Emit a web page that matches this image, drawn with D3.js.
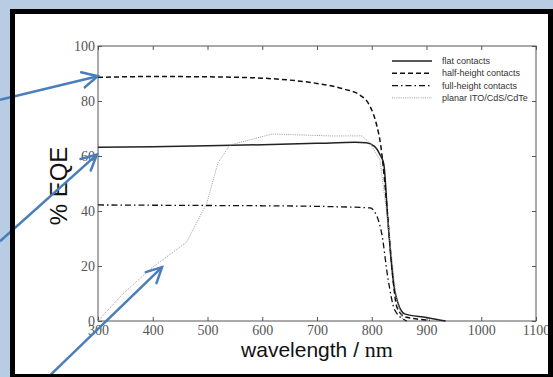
<!DOCTYPE html>
<html>
<head>
<meta charset="utf-8">
<script src="https://cdn.jsdelivr.net/npm/d3@7"></script>
<style>
  body { margin: 0; padding: 0; background: #b8cce4; }
  svg { display: block; }
</style>
</head>
<body>
<svg id="chart" width="553" height="377"></svg>
<script>
// data: [wavelength nm, % EQE]
var flat = [[300,63.2],[400,63.4],[500,63.7],[600,64.1],[700,64.6],[770,65],[790,64.8],[805,63.5],[815,60.5],[822,57],[830,35],[842,11],[860,2.6],[900,1.3],[935,0]];
var half = [[300,88.6],[400,88.9],[500,88.8],[600,88.3],[650,87.6],[700,86.4],[750,84.3],[778,82.2],[797,78],[808,72],[817,63],[823,52],[830,36],[837,19],[846,5],[861,1.5],[906,0.3]];
var full = [[300,42.2],[400,42.1],[500,42],[600,41.9],[724,41.6],[797,41.1],[810,37.8],[818,32],[830,15],[842,4],[864,0]];
var planar = [[300,0],[346,10],[400,19.6],[462,28.7],[499,43],[519,57.5],[541,64],[618,68],[724,67.3],[782,67.3],[797,64.7],[815,58.5],[830,35],[845,8],[857,0.4]];

var seriesNames = ['flat contacts', 'half-height contacts', 'full-height contacts', 'planar ITO/CdS/CdTe'];
var xTicks = [300, 400, 500, 600, 700, 800, 900, 1000, 1100];
var yTicks = [0, 20, 40, 60, 80, 100];

// annotation arrows, tail -> tip in data units
var arrows = [
  {from: [121, 80.4], to: [299.5, 89]},
  {from: [121, 29], to: [298, 60.5]},
  {from: [209, -20.4], to: [417, 19.6]}
];

var svg = d3.select('#chart');

// slide frame
svg.append('rect').attr('x', 0).attr('y', 0).attr('width', 553).attr('height', 377).attr('fill', '#b8cce4');
svg.append('rect').attr('x', 10).attr('y', 9).attr('width', 543).attr('height', 368).attr('fill', '#fff');

var x = d3.scaleLinear().domain([300, 1100]).range([98, 536]);
var y = d3.scaleLinear().domain([0, 100]).range([321, 46]);

var axisColor = '#555';
var serif = '"Liberation Serif", "DejaVu Serif", serif';
var sans = '"Liberation Sans", Arial, sans-serif';

// box
svg.append('rect')
  .attr('x', x(300)).attr('y', y(100))
  .attr('width', x(1100) - x(300)).attr('height', y(0) - y(100))
  .attr('fill', 'none').attr('stroke', axisColor).attr('stroke-width', 1);

// axes with inward ticks
function styleAxis(g) {
  g.select('.domain').remove();
  g.selectAll('.tick line').attr('stroke', axisColor);
  g.selectAll('.tick text').attr('fill', axisColor).style('font-family', serif).style('font-size', '14px');
}

svg.append('g').attr('transform', 'translate(0,' + y(0) + ')')
  .call(d3.axisBottom(x).tickValues(xTicks).tickSize(-4).tickPadding(4).tickFormat(d3.format('d')))
  .call(styleAxis);
svg.append('g').attr('transform', 'translate(0,' + y(100) + ')')
  .call(d3.axisTop(x).tickValues(xTicks).tickSize(-4).tickFormat(''))
  .call(styleAxis);
svg.append('g').attr('transform', 'translate(' + x(300) + ',0)')
  .call(d3.axisLeft(y).tickValues(yTicks).tickSize(-4).tickPadding(3).tickFormat(d3.format('d')))
  .call(styleAxis);
svg.append('g').attr('transform', 'translate(' + x(1100) + ',0)')
  .call(d3.axisRight(y).tickValues(yTicks).tickSize(-4).tickFormat(''))
  .call(styleAxis);

// axis titles
svg.append('text')
  .attr('transform', 'translate(67,186) rotate(-90)')
  .attr('text-anchor', 'middle')
  .style('font-family', sans).style('font-size', '24px').attr('fill', '#111')
  .text('% EQE');

var xl = svg.append('text')
  .attr('x', 317).attr('y', 357)
  .attr('text-anchor', 'middle').attr('fill', '#111')
  .style('font-size', '21px');
xl.append('tspan').style('font-family', sans).text('wavelength / ');
xl.append('tspan').style('font-family', serif).style('font-size', '22px').text('nm');

// curves
var styles = [
  {data: flat, color: '#222', width: 1.5, dash: null, curve: d3.curveMonotoneX},
  {data: half, color: '#111', width: 1.5, dash: '5,3', curve: d3.curveMonotoneX},
  {data: full, color: '#111', width: 1.3, dash: '6,3,1.5,3', curve: d3.curveMonotoneX},
  {data: planar, color: '#999', width: 1, dash: '1,1.2', curve: d3.curveLinear}
];

function linePath(d) {
  return d3.line()
    .x(function (p) { return x(p[0]); })
    .y(function (p) { return y(p[1]); })
    .curve(d.curve)(d.data);
}

svg.append('g').selectAll('path')
  .data(styles)
  .enter()
  .append('path')
  .attr('d', linePath)
  .attr('fill', 'none')
  .attr('stroke', function (d) { return d.color; })
  .attr('stroke-width', function (d) { return d.width; })
  .attr('stroke-dasharray', function (d) { return d.dash; });

// legend
var legend = svg.append('g').attr('transform', 'translate(392,61)');
var rows = legend.selectAll('g')
  .data(styles)
  .enter()
  .append('g')
  .attr('transform', function (d, i) { return 'translate(0,' + (i * 12.3) + ')'; });
rows.append('line')
  .attr('x1', 0).attr('x2', 40).attr('y1', 0).attr('y2', 0)
  .attr('stroke', function (d) { return d.color; })
  .attr('stroke-width', function (d) { return d.width; })
  .attr('stroke-dasharray', function (d) { return d.dash; });
rows.append('text')
  .attr('x', 50).attr('y', 3)
  .style('font-family', sans).style('font-size', '9px').attr('fill', '#333')
  .text(function (d, i) { return seriesNames[i]; });

// arrows
var arrowColor = '#4a7ebb';
var ag = svg.append('g');
arrows.forEach(function (a) {
  var x0 = x(a.from[0]), y0 = y(a.from[1]), x1 = x(a.to[0]), y1 = y(a.to[1]);
  var ang = Math.atan2(y0 - y1, x0 - x1);
  var len = 17, spread = 27 * Math.PI / 180;
  ag.append('line').attr('x1', x0).attr('y1', y0).attr('x2', x1).attr('y2', y1)
    .attr('stroke', arrowColor).attr('stroke-width', 2.5);
  ag.append('path')
    .attr('d', 'M' + (x1 + len * Math.cos(ang + spread)) + ',' + (y1 + len * Math.sin(ang + spread)) +
      'L' + x1 + ',' + y1 +
      'L' + (x1 + len * Math.cos(ang - spread)) + ',' + (y1 + len * Math.sin(ang - spread)))
    .attr('fill', 'none').attr('stroke', arrowColor).attr('stroke-width', 2.5)
    .attr('stroke-linejoin', 'miter').attr('stroke-linecap', 'round');
});

// black frame on top
svg.append('rect').attr('x', 12.5).attr('y', 11.5).attr('width', 538).attr('height', 365)
  .attr('fill', 'none').attr('stroke', '#000').attr('stroke-width', 5);
</script>
</body>
</html>
